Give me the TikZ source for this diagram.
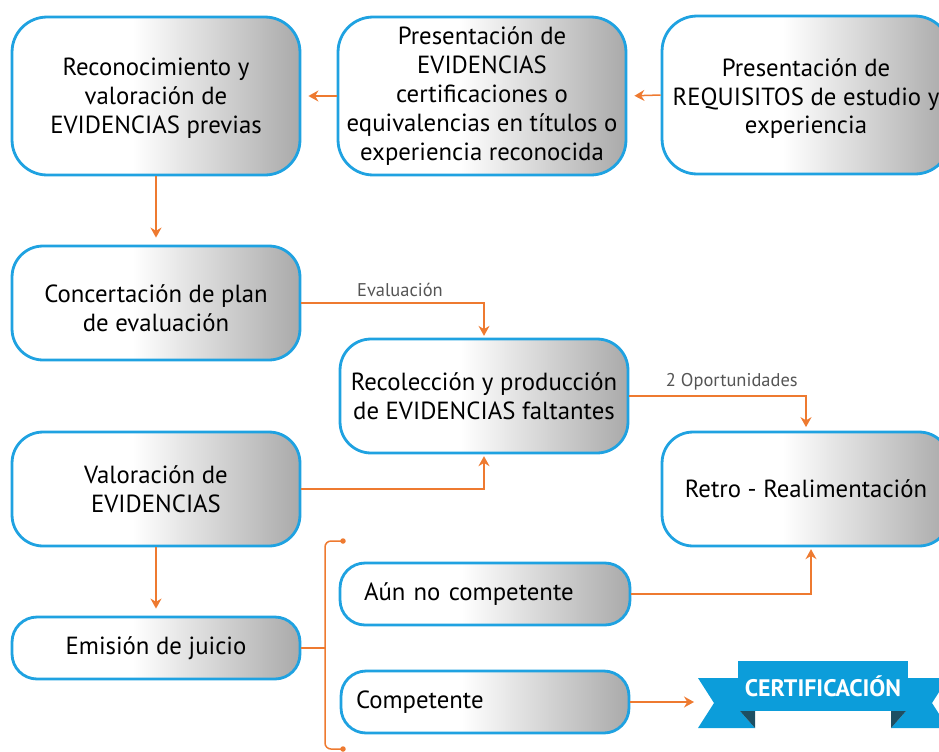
\documentclass[tikz,border=0pt]{standalone}
\usepackage{fontspec}
\setmainfont{PT Sans}
\usetikzlibrary{arrows.meta,positioning,calc}
\definecolor{BoxBlue}{HTML}{1FA2E1}
\definecolor{Orange}{HTML}{EE7A30}
\definecolor{LabelGray}{HTML}{555555}
\definecolor{RibbonBlue}{HTML}{0C9DDA}
\definecolor{RibbonDark}{HTML}{1D4F63}
\pgfdeclarehorizontalshading{boxgray}{100bp}{color(0bp)=(white); color(46bp)=(white); color(75bp)=(gray!67); color(100bp)=(gray!67)}
\newcommand\boxfont{\fontsize{14.1}{16.4}\selectfont}
\tikzset{
  basebox/.style={
    rectangle, draw=BoxBlue, line width=0.056cm, shading=boxgray,
    align=center, font=\boxfont, inner sep=2pt, minimum width=5.76cm
  },
  bigbox/.style={basebox, rounded corners=0.7cm, minimum height=3.16cm},
  midbox/.style={basebox, rounded corners=0.62cm, minimum height=2.28cm},
  smallbox/.style={basebox, rounded corners=0.5cm, minimum height=1.24cm},
  optbox/.style={smallbox, align=left, text width=4.84cm, inner xsep=0.48cm},
  flowarrow/.style={-{Stealth[length=0.2cm,width=0.22cm]}, Orange, line width=0.03cm},
  flowline/.style={Orange, line width=0.03cm},
  edgelabel/.style={font=\fontsize{10.5}{12}\selectfont, text=LabelGray, inner sep=3pt},
  ribbon/.style={rectangle, fill=RibbonBlue, text=white, font=\fontsize{13.6}{15}\selectfont\bfseries,
    minimum width=3.4cm, minimum height=1.0cm, inner sep=0pt},
}

\begin{document}
\begin{tikzpicture}[x=0.02cm,y=-0.02cm]
  \useasboundingbox (0,0) rectangle (939,751);
  % top row
  \node[bigbox] (recon) at (156,96) {\rule{0pt}{4.5mm}Reconocimiento y\\valoración de\\EVIDENCIAS previas};
  \node[bigbox] (evid) at (482,96) {Presentación de\\EVIDENCIAS\\certificaciones o\\equivalencias en títulos o\\experiencia reconocida};
  \node[bigbox] (requi) at (806,95) {\rule{0pt}{5mm}Presentación de\\REQUISITOS de estudio y\\experiencia};
  % middle rows
  \node[midbox] (plan) at (156,303) {\rule{0pt}{5.5mm}Concertación de plan\\de evaluación};
  \node[midbox] (recol) at (484,396) {Recolección y producción\\de EVIDENCIAS faltantes};
  \node[midbox] (valor) at (156,489) {Valoración de\\EVIDENCIAS};
  \node[midbox] (retro) at (806,489) {Retro - Realimentación};
  % bottom rows
  \node[smallbox] (juicio) at (156,648) {Emisión de juicio};
  \node[optbox] (nocomp) at (485,594) {Aún no competente};
  \node[optbox, text width=5.16cm, inner xsep=0.3cm] (comp) at (485,702) {Competente};

  % ribbon
  \fill[RibbonBlue] (698,678) -- (740,678) -- (740,711) -- (755,728) -- (698,728) -- (714,703) -- cycle;
  \fill[RibbonDark] (740,711) -- (755,711) -- (755,728) -- cycle;
  \fill[RibbonBlue] (948,678) -- (906,678) -- (906,711) -- (891,728) -- (948,728) -- (932,703) -- cycle;
  \fill[RibbonDark] (906,711) -- (891,711) -- (891,728) -- cycle;
  \node[ribbon] (cert) at (823,686) {CERTIFICACIÓN};
  \coordinate (certtail) at (694,703);

  % connectors
  \draw[flowarrow, shorten >=4pt] (requi.west) -- (evid.east);
  \draw[flowarrow, shorten >=4pt] (evid.west) -- (recon.east);
  \draw[flowarrow, shorten >=4pt] (recon.south) -- (plan.north);
  \draw[flowarrow, shorten >=1pt] (plan.east) -| node[edgelabel, pos=0.27, above] {Evaluación} (recol.north);
  \draw[flowarrow, shorten >=1pt] (valor.east) -| (recol.south);
  \draw[flowarrow, shorten >=2pt] (recol.east) -| node[edgelabel, pos=0.29, above] {2 Oportunidades} (retro.north);
  \draw[flowarrow, shorten >=1pt] (nocomp.east) -| ([xshift=0.1cm]retro.south);
  \draw[flowarrow, shorten >=4pt] (valor.south) -- (juicio.north);
  \draw[flowarrow] (comp.east) -- (comp.east -| certtail);

  % bracket
  \coordinate (brk) at (325,648);
  \coordinate (brtop) at (343,541);
  \coordinate (brbot) at (343,749);
  \draw[flowline] (juicio.east) -- (brk);
  \draw[flowline, rounded corners=0.12cm] (brtop) -- (325,541) -- (325,749) -- (brbot);
  \fill[Orange] (brtop) circle[radius=0.055cm];
  \fill[Orange] (brbot) circle[radius=0.055cm];
\end{tikzpicture}
\end{document}
